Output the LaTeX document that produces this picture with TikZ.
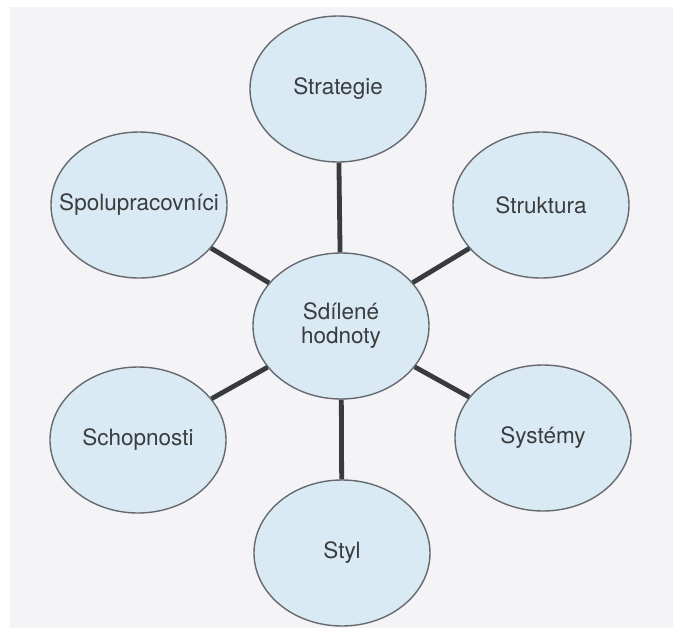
\documentclass[tikz,border=0pt]{standalone}
\usepackage{fontspec}
\setmainfont{TeX Gyre Heros}
\usetikzlibrary{shapes.geometric}
\definecolor{paper}{HTML}{F4F4F7}
\definecolor{bubble}{HTML}{D9EAF4}
\definecolor{rim}{HTML}{666A6E}
\definecolor{link}{HTML}{383A3C}
\definecolor{ink}{HTML}{3A3C3E}
\tikzset{
  bubble/.style={ellipse, draw=rim, line width=1.4pt, fill=bubble,
    minimum width=176pt, minimum height=146pt, inner sep=0pt,
    text=ink, font=\fontsize{22.5}{24}\selectfont, align=center},
  spoke/.style={draw=link, line width=4.8pt}
}
\begin{document}
\begin{tikzpicture}[x=1pt,y=-1pt]
\useasboundingbox (0,0) rectangle (673,635);
\fill[white] (0,0) rectangle (673,635);
\fill[paper] (10,7) rectangle (673,628);
\node[bubble] (ctr) at (341,326) {Sdílené\\hodnoty};
\node[bubble] (str) at (338,89) {Strategie};
\node[bubble] (spo) at (139,205) {\makebox[0pt]{Spolupracovníci}};
\node[bubble] (stk) at (541,205) {Struktura};
\node[bubble] (sch) at (138,440) {Schopnosti};
\node[bubble] (sys) at (543,438) {Systémy};
\node[bubble] (sty) at (342,553) {Styl};
\draw[spoke] (ctr) -- (str);
\draw[spoke] (ctr) -- (spo);
\draw[spoke] (ctr) -- (stk);
\draw[spoke] (ctr) -- (sch);
\draw[spoke] (ctr) -- (sys);
\draw[spoke] (ctr) -- (sty);
\end{tikzpicture}
\end{document}
